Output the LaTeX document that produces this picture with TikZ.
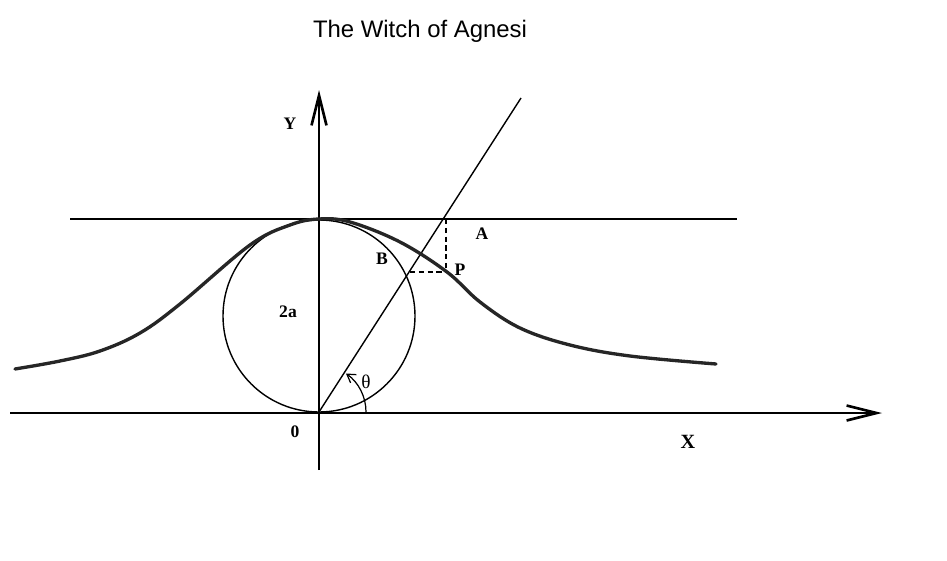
\documentclass[tikz,border=0pt]{standalone}
\usepackage{fontspec}
\setmainfont{Liberation Serif}
\newfontfamily\titlefont{Liberation Sans}
\usetikzlibrary{arrows.meta,calc}
\begin{document}
\begin{tikzpicture}[x=0.02cm,y=-0.02cm,
  thinline/.style={line width=0.8pt,black},
  curveline/.style={line width=1.9pt,black!85},
  axisarrow/.style={line width=0.8pt,-{Straight Barb[length=0.6cm,width=0.3cm,line width=1.5pt]}},
  lab/.style={font=\fontsize{10}{11}\selectfont\bfseries,inner sep=0pt},
  dashline/.style={line width=0.7pt,dash pattern=on 3pt off 2pt}]
\useasboundingbox (0,0) rectangle (947,561);
% key points
\coordinate (O) at (319,412);
\coordinate (C) at (319,316);
\coordinate (T) at (319,219);
\coordinate (Lend) at (70,219);
\coordinate (Rend) at (737,219);
\coordinate (Xs) at (10,413);
\coordinate (Xe) at (882,413);
\coordinate (Ys) at (319,470);
\coordinate (Ye) at (319,90);
\coordinate (Rtip) at (521,98);
\coordinate (Apt) at (446,219);
\coordinate (Ppt) at (446,272);
\coordinate (Bpt) at (410,272);
\coordinate (Arc0) at (366,412);
% title
\node[font=\titlefont\fontsize{13.6}{15}\selectfont,inner sep=0pt] (title) at (420,31) {The Witch of Agnesi};
% lines
\draw[thinline] (Lend) -- (Rend);
\draw[axisarrow] (Xs) -- (Xe);
\draw[axisarrow] (Ys) -- (Ye);
\draw[thinline] (C) circle[radius=96*0.02cm];
\draw[thinline] (O) -- (Rtip);
\draw[dashline] (Apt) -- (Ppt);
\draw[dashline] (Bpt) -- (Ppt);
% curve
\draw[curveline,line cap=round] plot[smooth,tension=0.6] coordinates {
 (15,369) (60,361) (100,351) (140,333) (180,304) (250,245) (290,225) (319,219)
 (350,222) (400,242) (447,272) (480,302) (520,328) (570,345) (630,356) (716,364)};
% angle arc
\draw[line width=0.7pt,-{Straight Barb[length=1.6mm,width=2mm]}] (Arc0) arc[start angle=0,end angle=55,radius=47*0.02cm];
% labels
\node[lab] (ylab) at (290,124) {Y};
\node[lab,font=\fontsize{11.5}{12}\selectfont\bfseries] (xlab) at (688,442) {X};
\node[lab] (olab) at (295,432) {0};
\node[lab] (twoa) at (288,312) {2a};
\node[lab] (alab) at (482,234) {A};
\node[lab] (blab) at (382,259) {B};
\node[lab] (plab) at (460,270) {P};
\node[inner sep=0pt,font=\fontsize{11}{12}\selectfont] (th) at (366,382) {θ};
\end{tikzpicture}
\end{document}
